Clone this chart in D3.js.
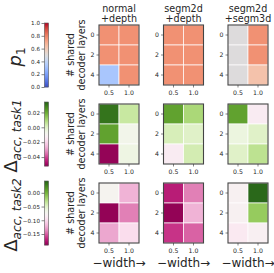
<!DOCTYPE html>
<html>
<head>
<meta charset="utf-8">
<script src="https://cdn.jsdelivr.net/npm/d3@7"></script>
<style>
  body { margin: 0; background: #fff; }
  text { font-family: "DejaVu Sans", sans-serif; fill: #262626; }
</style>
</head>
<body>
<script>
// columns / rows of each heatmap
const widths = ["0.5", "1.0"];
const layers = ["0", "2", "4"];
const tasks = ["normal\n+depth", "segm2d\n+depth", "segm2d\n+segm3d"];

// p1 values, [task][layer][width]
const p1 = [
  [[0.77, 0.77], [0.77, 0.77], [0.33, 0.77]],
  [[0.77, 0.77], [0.77, 0.77], [0.77, 0.77]],
  [[0.50, 0.77], [0.50, 0.77], [0.50, 0.63]]
];
// accuracy change, task 1
const dTask1 = [
  [[0.031, 0.005], [0.022, -0.007], [-0.051, -0.005]],
  [[0.022, 0.010], [0.002, 0.000], [-0.013, 0.003]],
  [[0.022, -0.013], [-0.004, 0.000], [0.000, 0.007]]
];
// accuracy change, task 2
const dTask2 = [
  [[-0.074, -0.120], [-0.188, -0.139], [-0.125, -0.097]],
  [[-0.171, -0.139], [-0.188, -0.120], [-0.162, -0.148]],
  [[-0.078, 0.041], [-0.078, -0.013], [-0.087, -0.080]]
];

// colour limits and colourbar ticks
const p1Range = [0, 1];
const task1Range = [-0.052, 0.034];
const task2Range = [-0.19, 0.043];
const p1Ticks = [0, 0.2, 0.4, 0.6, 0.8, 1.0];
const task1Ticks = [-0.04, -0.02, 0.00, 0.02];
const task2Ticks = [-0.15, -0.10, -0.05, 0.00];

// matplotlib coolwarm
const coolwarmStops = ["#3b4cc0", "#4d68d7", "#6282ea", "#779af7", "#8db0fe", "#a3c2ff", "#b8d0f9", "#ccd9ee",
  "#dddddd", "#ecd3c5", "#f5c4ad", "#f7b194", "#f49a7b", "#ec7f63", "#de604d", "#cb3e38", "#b40426"];
const coolwarm = d3.interpolateRgbBasis(coolwarmStops);

const svg = d3.select("body").append("svg")
  .attr("width", 274)
  .attr("height", 273);

const colX = [99, 163.5, 228];
const rowY = [25, 104, 183];
const hmW = 40, hmH = 60;

const minus = v => d3.format(".2f")(v).replace("-", "\u2212");
const rows = [
  { data: p1, range: p1Range, ticks: p1Ticks, interp: coolwarm, fmt: d3.format(".1f") },
  { data: dTask1, range: task1Range, ticks: task1Ticks, interp: d3.interpolatePiYG, fmt: minus },
  { data: dTask2, range: task2Range, ticks: task2Ticks, interp: d3.interpolatePiYG, fmt: minus }
];

// column titles
tasks.forEach((t, j) => {
  const tx = svg.append("text")
    .attr("text-anchor", "middle")
    .style("font-size", "9.6px");
  t.split("\n").forEach((line, k) => {
    tx.append("tspan").attr("x", colX[j] + hmW / 2).attr("y", 12 + k * 9.7).text(line);
  });
});

rows.forEach((row, r) => {
  const y0 = rowY[r];
  const color = d3.scaleSequential(row.interp).domain(row.range);

  // colourbar
  const cbTop = y0 - 2, cbH = 64, cbX = 44.5, cbW = 4;
  const cbScale = d3.scaleLinear().domain(row.range).range([cbTop + cbH, cbTop]);
  const steps = d3.range(0, 64);
  svg.append("g").selectAll("rect").data(steps).enter().append("rect")
    .attr("x", cbX)
    .attr("y", i => cbTop + cbH - (i + 1) * cbH / steps.length)
    .attr("width", cbW)
    .attr("height", cbH / steps.length + 0.3)
    .attr("fill", i => color(row.range[0] + (i + 0.5) / steps.length * (row.range[1] - row.range[0])));
  const cbAxis = svg.append("g")
    .attr("transform", `translate(${cbX},0)`)
    .call(d3.axisLeft(cbScale).tickValues(row.ticks).tickFormat(row.fmt).tickSize(3).tickPadding(1.5));
  cbAxis.select(".domain").remove();
  cbAxis.selectAll("line").attr("stroke", "#333").attr("stroke-width", 0.6);
  cbAxis.selectAll("text").style("font-size", "5.6px").attr("fill", "#333");
  svg.append("rect")
    .attr("x", cbX).attr("y", cbTop).attr("width", cbW).attr("height", cbH)
    .attr("fill", "none").attr("stroke", "#555").attr("stroke-width", 0.6);

  // row label
  const lab = svg.append("text")
    .attr("transform", `translate(${r === 0 ? 21 : 17},${y0 + 32}) rotate(-90)`)
    .attr("text-anchor", "middle");
  if (r === 0) {
    lab.append("tspan").style("font-size", "18px").style("font-style", "italic").text("p");
    lab.append("tspan").style("font-size", "12px").attr("dy", 4).text("1");
  } else {
    lab.append("tspan").style("font-size", "18px").text("\u0394");
    lab.append("tspan").style("font-size", "12px").style("font-style", "italic").attr("dy", 4)
      .text(r === 1 ? "acc, task1" : "acc, task2");
  }

  row.data.forEach((grid, j) => {
    const x = d3.scaleBand().domain(widths).range([colX[j], colX[j] + hmW]);
    const y = d3.scaleBand().domain(layers).range([y0, y0 + hmH]);
    const g = svg.append("g");
    const cells = [];
    grid.forEach((vals, li) => vals.forEach((v, wi) => cells.push({ l: layers[li], w: widths[wi], v })));
    g.selectAll("rect").data(cells).enter().append("rect")
      .attr("x", d => x(d.w))
      .attr("y", d => y(d.l))
      .attr("width", x.bandwidth())
      .attr("height", y.bandwidth())
      .attr("fill", d => color(d.v))
      .attr("stroke", "#fff")
      .attr("stroke-width", 0.7);
    g.append("rect")
      .attr("x", colX[j]).attr("y", y0).attr("width", hmW).attr("height", hmH)
      .attr("fill", "none").attr("stroke", "#444").attr("stroke-width", 1.1);

    const xa = svg.append("g").attr("transform", `translate(0,${y0 + hmH})`)
      .call(d3.axisBottom(x).tickSize(2.5).tickPadding(3));
    xa.select(".domain").remove();
    xa.selectAll("line").attr("stroke", "#333").attr("stroke-width", 0.6);
    xa.selectAll("text").style("font-size", "6.2px").attr("fill", "#333");
    const ya = svg.append("g").attr("transform", `translate(${colX[j]},0)`)
      .call(d3.axisLeft(y).tickSize(2.5).tickPadding(2));
    ya.select(".domain").remove();
    ya.selectAll("line").attr("stroke", "#333").attr("stroke-width", 0.6);
    ya.selectAll("text").style("font-size", "6.2px").attr("fill", "#333");

    if (j === 0) {
      const yl = svg.append("text")
        .attr("transform", `translate(0,${y0 + hmH / 2}) rotate(-90)`)
        .attr("text-anchor", "middle")
        .style("font-size", "9.6px");
      yl.append("tspan").attr("x", 0).attr("y", 74).text("# shared");
      yl.append("tspan").attr("x", 0).attr("y", 85).text("decoder layers");
    }
    if (r === 2) {
      svg.append("text")
        .attr("x", colX[j] + hmW / 2)
        .attr("y", 266.5)
        .attr("text-anchor", "middle")
        .style("font-size", "12px")
        .text("\u2212width\u2192");
    }
  });
});
</script>
</body>
</html>
